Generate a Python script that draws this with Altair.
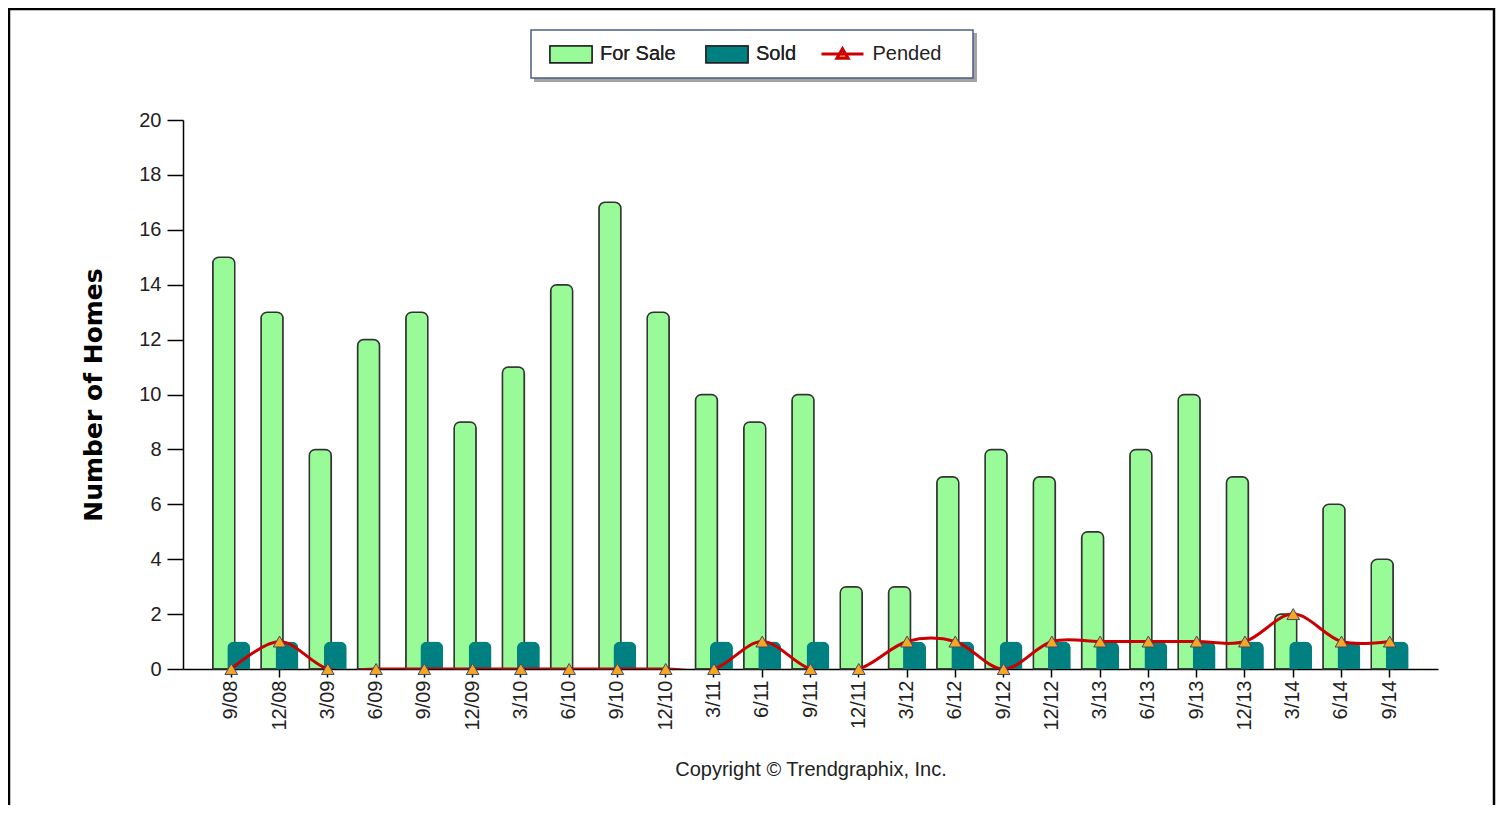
import altair as alt
import pandas as pd

periods = ["9/08", "12/08", "3/09", "6/09", "9/09", "12/09", "3/10", "6/10", "9/10",
           "12/10", "3/11", "6/11", "9/11", "12/11", "3/12", "6/12", "9/12", "12/12",
           "3/13", "6/13", "9/13", "12/13", "3/14", "6/14", "9/14"]
for_sale = [15, 13, 8, 12, 13, 9, 11, 14, 17, 13, 10, 9, 10, 3, 3, 7, 8, 7, 5, 8, 10, 7, 2, 6, 4]
sold = [1, 1, 1, 0, 1, 1, 1, 0, 1, 0, 1, 1, 1, 0, 1, 1, 1, 1, 1, 1, 1, 1, 1, 1, 1]
pended = [0, 1, 0, 0, 0, 0, 0, 0, 0, 0, 0, 1, 0, 0, 1, 1, 0, 1, 1, 1, 1, 1, 2, 1, 1]
bar_series = ["For Sale", "Sold"]
bar_colors = ["#98FB98", "#008080"]
line_series = ["Pended"]
line_colors = ["#CC0000"]
y_ticks = [0, 2, 4, 6, 8, 10, 12, 14, 16, 18, 20]

rows = []
for i, p in enumerate(periods):
    rows.append({"period": p, "series": "For Sale", "value": for_sale[i]})
    if sold[i] > 0:
        rows.append({"period": p, "series": "Sold", "value": sold[i]})
    rows.append({"period": p, "series": "Pended", "value": pended[i]})
df = pd.DataFrame(rows)

FONT = "Liberation Sans"

x_enc = alt.X("period:N", sort=periods,
              scale=alt.Scale(paddingInner=0, paddingOuter=0.5),
              axis=alt.Axis(labelAngle=-90, tickSize=8, labelPadding=3,
                            labelFont=FONT, labelFontSize=20, labelColor="#222222",
                            domainColor="black", domainWidth=1.5,
                            tickColor="black", tickWidth=1.5, grid=False,
                            title="Copyright \u00a9 Trendgraphix, Inc.",
                            titleFont=FONT, titleFontSize=20, titleFontWeight="normal",
                            titleColor="#222222", titleY=100, titleBaseline="middle"))
y_enc = alt.Y("value:Q", scale=alt.Scale(domain=[0, 20], nice=False),
              axis=alt.Axis(values=y_ticks, grid=False, tickSize=16, labelPadding=6,
                            labelFont=FONT, labelFontSize=20, labelColor="#222222",
                            domainColor="black", domainWidth=1.5,
                            tickColor="black", tickWidth=1.5,
                            title="Number of Homes", titleFont="DejaVu Sans",
                            titleFontWeight="bold", titleFontSize=25, titleColor="black",
                            titleX=-90, titleY=274.5, titleAngle=270,
                            titleAlign="center", titleBaseline="middle"))

fill_legend = alt.Legend(
    orient="none", legendX=378, legendY=-76, direction="horizontal", title=None,
    padding=0, symbolSize=196, symbolOffset=0,
    symbolType="M-3,-1.2L3,-1.2L3,1.2L-3,1.2Z",
    symbolStrokeColor="#222222", symbolStrokeWidth=1.5, symbolOpacity=1,
    labelFont=FONT, labelFontSize=20, labelFontWeight="normal", labelColor="#222222",
    labelOffset=19, columnPadding=27,
)
stroke_legend = alt.Legend(
    orient="none", legendX=649.5, legendY=-76, direction="horizontal", title=None,
    padding=0, symbolSize=196, symbolOffset=0,
    symbolType="M-3,0L3,0M-0.8,0.6L0,-0.75L0.8,0.6Z",
    symbolStrokeWidth=3, symbolFillColor="#F5A623", symbolOpacity=1,
    labelFont=FONT, labelFontSize=20, labelFontWeight="normal", labelColor="#222222",
    labelOffset=20,
)

base = alt.Chart(df).encode(x=x_enc)

fill_enc = alt.Fill("series:N", scale=alt.Scale(domain=bar_series, range=bar_colors),
                    legend=fill_legend)

forsale_bars = base.transform_filter(alt.datum.series == "For Sale").mark_bar(
    width=22, xOffset=-7.5, stroke="#333333", strokeWidth=1.5, opacity=1,
    cornerRadiusTopLeft=6, cornerRadiusTopRight=6
).encode(y=y_enc, fill=fill_enc)

sold_bars = base.transform_filter(alt.datum.series == "Sold").mark_bar(
    width=23, xOffset=7.5, opacity=1,
    cornerRadiusTopLeft=7, cornerRadiusTopRight=7
).encode(y=y_enc, fill=fill_enc)

pended_line = base.transform_filter(alt.datum.series == "Pended").mark_line(
    interpolate="cardinal", strokeWidth=3, clip=True
).encode(y=y_enc,
         stroke=alt.Stroke("series:N", scale=alt.Scale(domain=line_series, range=line_colors),
                           legend=stroke_legend))

pended_pts = base.transform_filter(alt.datum.series == "Pended").mark_point(
    shape="triangle-up", filled=True, size=160, fill="#F5A623",
    stroke="#3E4A6B", strokeWidth=1, opacity=1
).encode(y=y_enc)

one = pd.DataFrame({"k": [0]})
legend_shadow = alt.Chart(one).mark_rect(fill="#8C8C8C", opacity=0.8).encode(
    x=alt.value(351), x2=alt.value(794), y=alt.value(-87), y2=alt.value(-38))
legend_box = alt.Chart(one).mark_rect(fill="white", stroke="#4B5E84", strokeWidth=1.5).encode(
    x=alt.value(348), x2=alt.value(790), y=alt.value(-90), y2=alt.value(-42))

frame = alt.Chart(one).mark_rect(
    fillOpacity=0, stroke="black", strokeWidth=2.5
).encode(x=alt.value(-174), x2=alt.value(1311), y=alt.value(-111), y2=alt.value(720))

chart = alt.layer(legend_shadow, legend_box, forsale_bars, sold_bars, pended_line,
                  pended_pts, frame).resolve_scale(fill="independent").properties(
    width=1255, height=549,
    autosize=alt.AutoSizeParams(type="none"),
    padding={"left": 175, "top": 112, "right": 58, "bottom": 136},
    background="white",
).configure_view(strokeWidth=0)

chart.save("out.html", embed_options={"renderer": "svg", "actions": False})
